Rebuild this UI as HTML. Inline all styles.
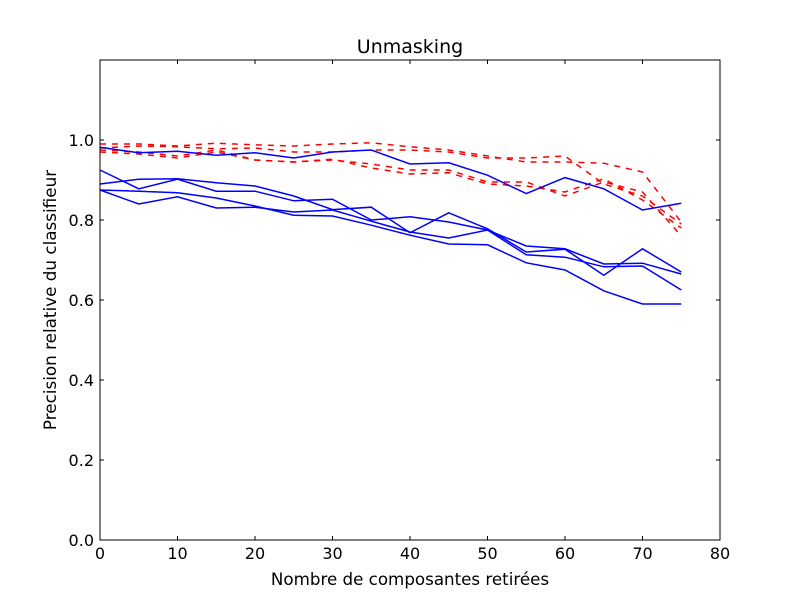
<!DOCTYPE html>
<html><head><meta charset="utf-8"><style>
body{margin:0;background:#fff;}
svg text{font-family:"DejaVu Sans","Liberation Sans",sans-serif;}
</style></head><body>
<svg id="chart" width="800" height="600">
<rect width="800" height="600" fill="#fff"/>
<text x="410" y="53" font-size="19" text-anchor="middle">Unmasking</text>
<g id="plot"></g>
<rect x="100" y="60" width="620" height="480" fill="none" stroke="#000" stroke-width="1"/>
<text x="410" y="585" font-size="16.7" text-anchor="middle">Nombre de composantes retirées</text>
<text x="56" y="300" font-size="16.8" text-anchor="middle" transform="rotate(-90 56 300)">Precision relative du classifieur</text>
</svg>
<script>
const xs = [0,5,10,15,20,25,30,35,40,45,50,55,60,65,70,75];
const blueA = [0.982,0.968,0.972,0.962,0.968,0.955,0.97,0.975,0.94,0.943,0.912,0.866,0.906,0.878,0.825,0.842];
const blueB = [0.925,0.878,0.902,0.872,0.872,0.848,0.852,0.80,0.808,0.795,0.775,0.735,0.728,0.69,0.692,0.665];
const blueC = [0.89,0.902,0.903,0.893,0.885,0.86,0.826,0.832,0.768,0.818,0.778,0.72,0.727,0.662,0.728,0.67];
const blueD = [0.875,0.84,0.858,0.83,0.832,0.82,0.825,0.797,0.77,0.755,0.775,0.713,0.707,0.683,0.685,0.625];
const blueE = [0.875,0.872,0.868,0.855,0.835,0.812,0.81,0.787,0.762,0.74,0.738,0.693,0.675,0.623,0.59,0.59];
const redA = [0.99,0.99,0.985,0.992,0.988,0.985,0.99,0.993,0.983,0.975,0.96,0.945,0.945,0.942,0.92,0.795];
const redB = [0.98,0.985,0.983,0.978,0.98,0.97,0.97,0.975,0.975,0.97,0.955,0.955,0.96,0.89,0.86,0.79];
const redC = [0.975,0.97,0.96,0.975,0.95,0.945,0.952,0.93,0.915,0.918,0.89,0.885,0.87,0.903,0.85,0.78];
const redD = [0.97,0.965,0.955,0.97,0.95,0.945,0.95,0.94,0.925,0.925,0.895,0.895,0.86,0.895,0.87,0.76];
const xTicks = [0,10,20,30,40,50,60,70,80];
const yTicks = [0.0,0.2,0.4,0.6,0.8,1.0];

const NS="http://www.w3.org/2000/svg";
const X = v => 100 + v*620/80;
const Y = v => 540 - v*480/1.2;
const g = document.getElementById('plot');
function mk(tag, attrs){const e=document.createElementNS(NS,tag);for(const k in attrs)e.setAttribute(k,attrs[k]);return e;}

xTicks.forEach(t=>{
  const l1=mk('line',{x1:X(t),x2:X(t),y1:540,y2:536,stroke:'#000'});
  
  
  g.appendChild(l1);
  const l2=mk('line',{x1:X(t),x2:X(t),y1:60,y2:64,stroke:'#000'});
  
  
  g.appendChild(l2);
  const tx=mk('text',{x:X(t),y:559,'font-size':16,'text-anchor':'middle'});
  tx.textContent=t;
  
  
  g.appendChild(tx);
});
yTicks.forEach(t=>{
  const l1=mk('line',{x1:100,x2:104,y1:Y(t),y2:Y(t),stroke:'#000'});
  
  
  g.appendChild(l1);
  const l2=mk('line',{x1:716,x2:720,y1:Y(t),y2:Y(t),stroke:'#000'});
  
  
  g.appendChild(l2);
  const tx=mk('text',{x:94,y:Y(t)+6,'font-size':16,'text-anchor':'end'});
  tx.textContent=t.toFixed(1);
  
  
  g.appendChild(tx);
});
function series(vals,color,dash,name){
  const p=mk('polyline',{points:vals.map((v,i)=>X(xs[i])+','+Y(v)).join(' '),fill:'none',stroke:color,'stroke-width':1.5});
  if(dash)p.setAttribute('stroke-dasharray','6,6');
  
  
  g.appendChild(p);
}
series(redA,'#ff0000',true,'red-series-1');
series(redB,'#ff0000',true,'red-series-2');
series(redC,'#ff0000',true,'red-series-3');
series(redD,'#ff0000',true,'red-series-4');
series(blueA,'#0000ff',false,'blue-series-1');
series(blueB,'#0000ff',false,'blue-series-2');
series(blueC,'#0000ff',false,'blue-series-3');
series(blueD,'#0000ff',false,'blue-series-4');
series(blueE,'#0000ff',false,'blue-series-5');
</script>
</body></html>
